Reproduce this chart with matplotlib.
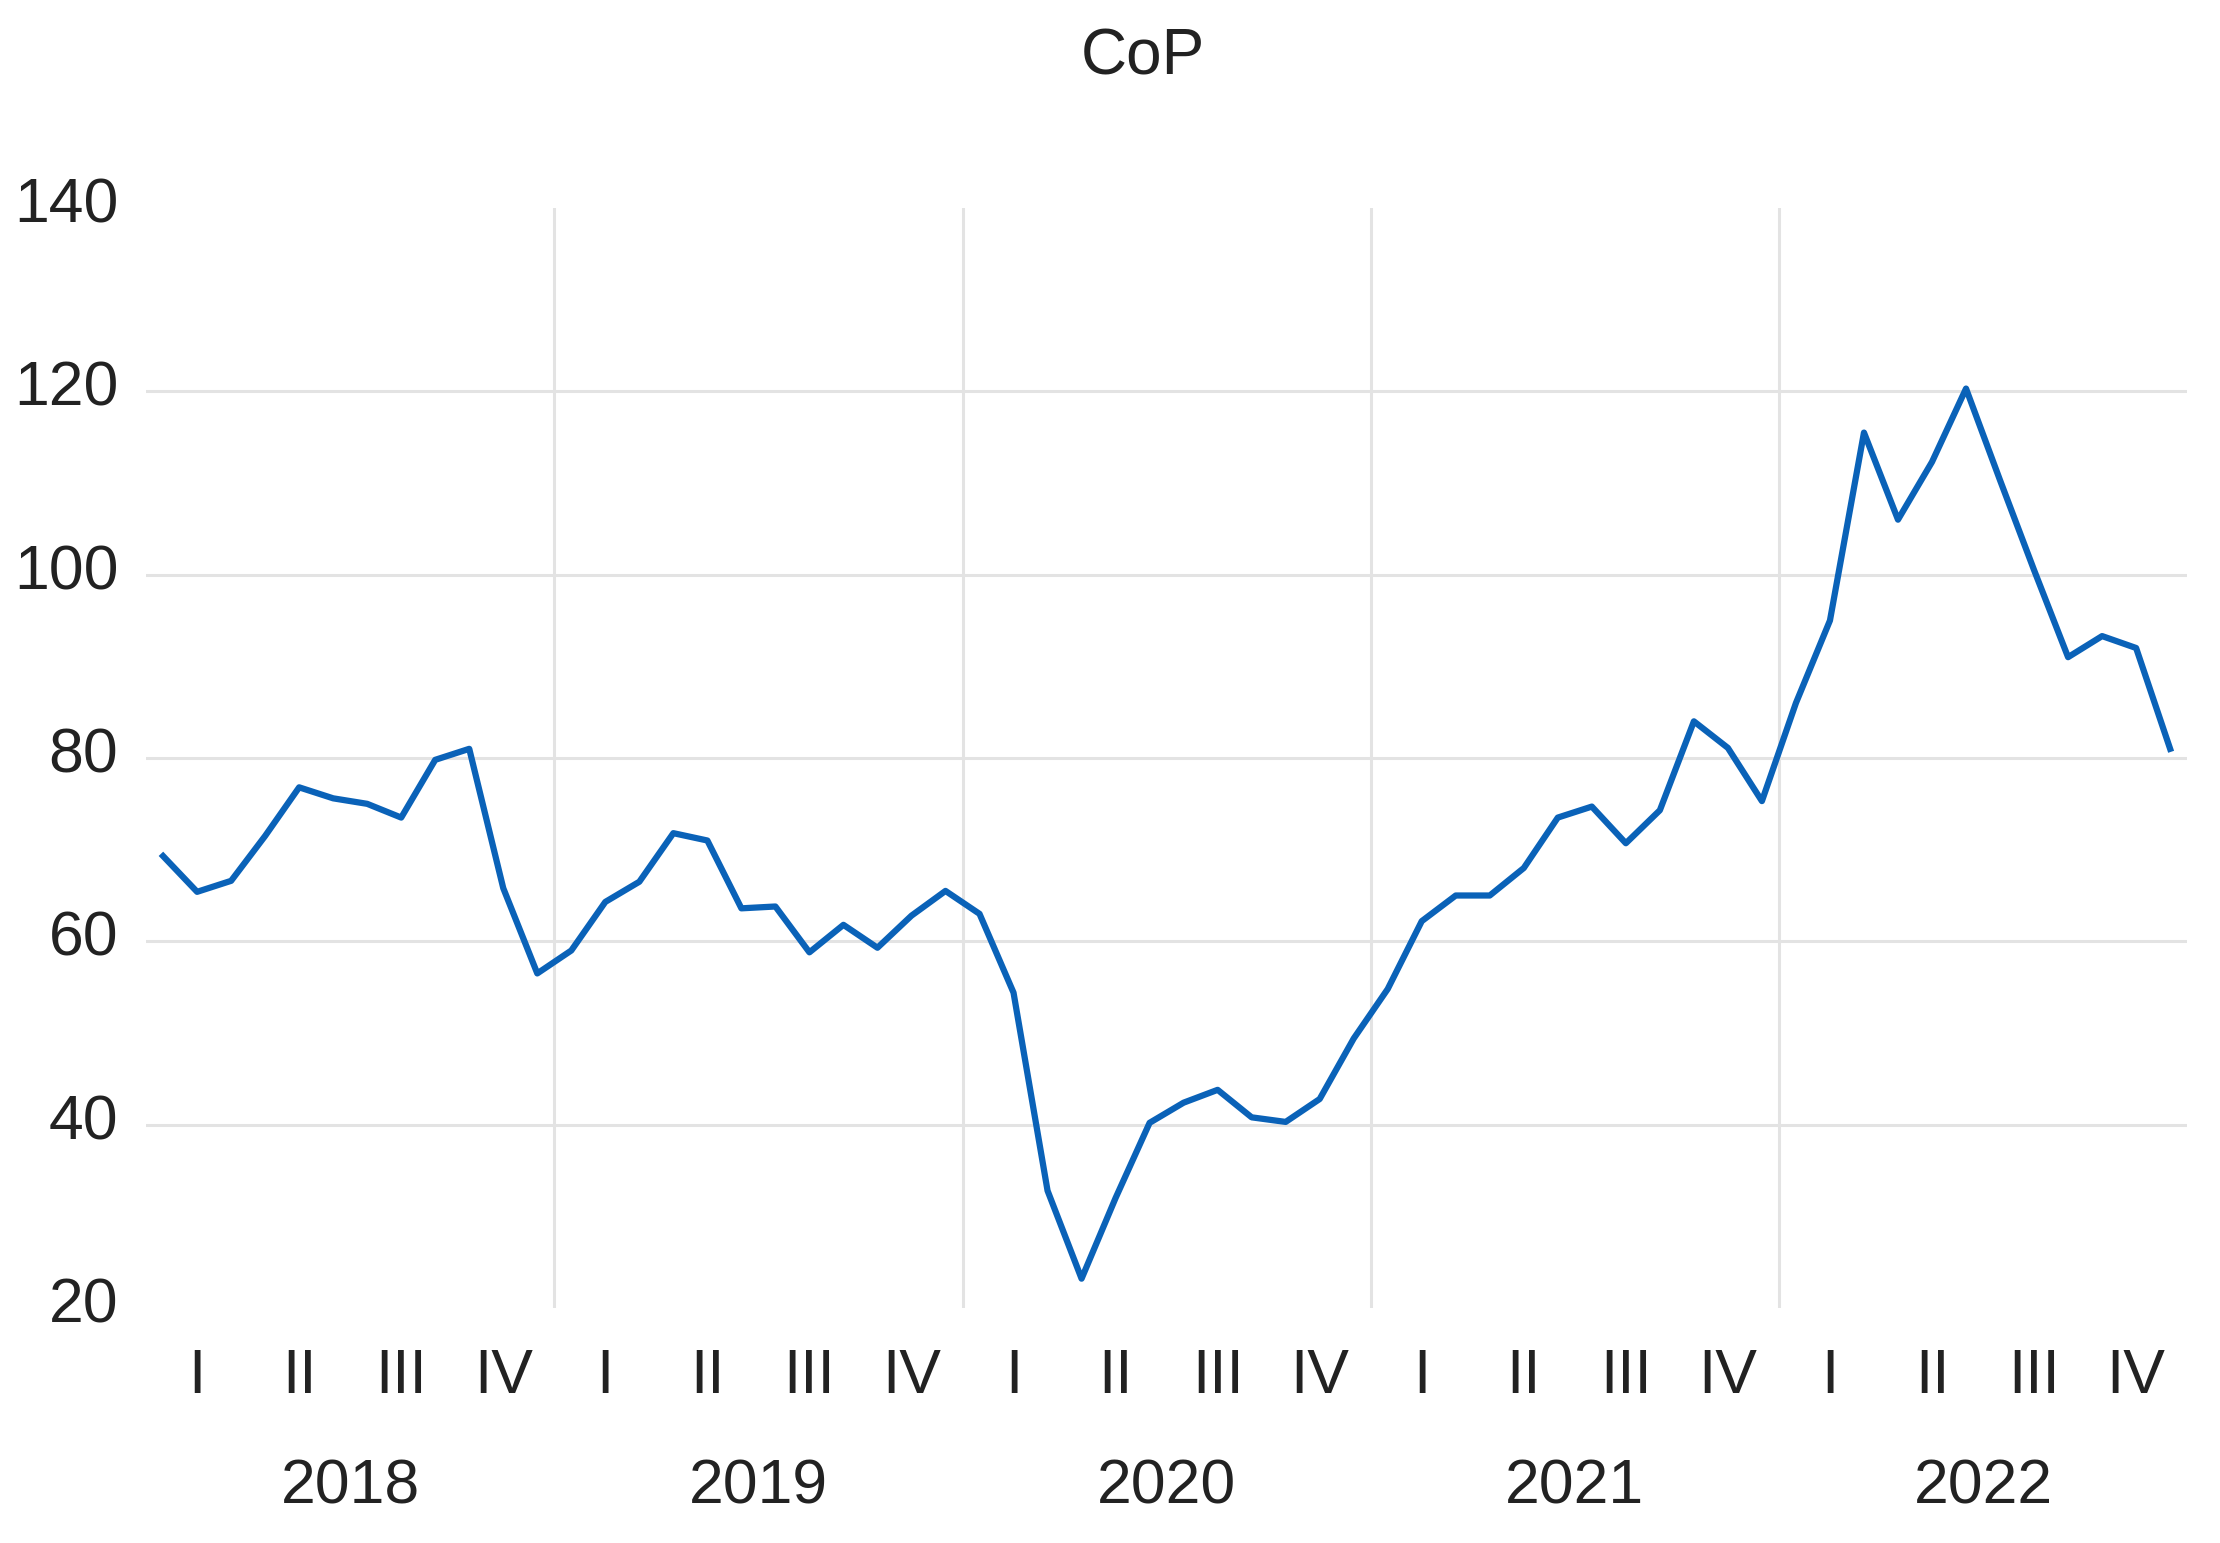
import numpy as np
import matplotlib
matplotlib.use("Agg")
from matplotlib import pyplot as plt
from matplotlib import transforms

# -----------------------------
# Data (monthly values)
# -----------------------------
years = ["2018", "2019", "2020", "2021", "2022"]
quarters = ["I", "II", "III", "IV"]

cop_2018 = [69.3, 65.4, 66.6, 71.5, 76.8, 75.6, 75.0, 73.5, 79.8, 81.0, 65.8, 56.5]
cop_2019 = [59.0, 64.3, 66.5, 71.8, 71.0, 63.6, 63.8, 58.8, 61.8, 59.3, 62.8, 65.5]
cop_2020 = [63.0, 54.4, 32.8, 23.2, 32.0, 40.2, 42.4, 43.8, 40.8, 40.3, 42.8, 49.4]
cop_2021 = [54.8, 62.2, 65.0, 65.0, 68.0, 73.5, 74.7, 70.7, 74.3, 84.0, 81.1, 75.3]
cop_2022 = [86.0, 95.0, 115.5, 106.0, 112.3, 120.3, 110.3, 100.5, 91.0, 93.3, 92.0, 81.0]

y_ticks = [20, 40, 60, 80, 100, 120, 140]
h_grid = [40, 60, 80, 100, 120]

cop = np.array(cop_2018 + cop_2019 + cop_2020 + cop_2021 + cop_2022)
months = np.arange(len(cop)) + 0.5  # mid-month positions

# -----------------------------
# Style
# -----------------------------
plt.rcParams['font.family'] = ['Liberation Sans', 'DejaVu Sans']
LINE_COLOR = "#0a62b8"
GRID_COLOR = "#e3e3e3"
TEXT_COLOR = "#222222"

fig = plt.figure(figsize=(22.2, 15.43), dpi=100)
ax = fig.add_axes([0.0658, 0.1523, 0.9194, 0.7129])

for v in h_grid:
    ax.axhline(v, color=GRID_COLOR, lw=2.2, zorder=1)
for k in range(1, len(years)):
    ax.axvline(12 * k, color=GRID_COLOR, lw=2.2, zorder=1)

ax.plot(months, cop, color=LINE_COLOR, lw=4.5, zorder=3, solid_joinstyle="round")

ax.set_xlim(0, 12 * len(years))
ax.set_ylim(20, 140)
ax.set_yticks(y_ticks)
ax.set_yticklabels([str(v) for v in y_ticks])

q_pos = [3 * i + 1.5 for i in range(4 * len(years))]
ax.set_xticks(q_pos)
ax.set_xticklabels(quarters * len(years))

ax.tick_params(axis="both", length=0, labelsize=45, colors=TEXT_COLOR)
ax.tick_params(axis="y", pad=20)
ax.tick_params(axis="x", pad=28)

# y labels sit a touch above their gridlines in the original
shift = transforms.ScaledTranslation(0, 6 / 72, fig.dpi_scale_trans)
for lbl in ax.get_yticklabels():
    lbl.set_transform(lbl.get_transform() + shift)

for s in ax.spines.values():
    s.set_visible(False)

# year labels under the quarter labels
trans = transforms.blended_transform_factory(ax.transData, fig.transFigure)
for i, yr in enumerate(years):
    ax.text(12 * i + 6, 0.036, yr, transform=trans, ha="center", va="center",
            fontsize=45, color=TEXT_COLOR)

fig.text(0.515, 0.963, "CoP", ha="center", va="center", fontsize=46, color=TEXT_COLOR)

fig.savefig("out.png", dpi=100)
